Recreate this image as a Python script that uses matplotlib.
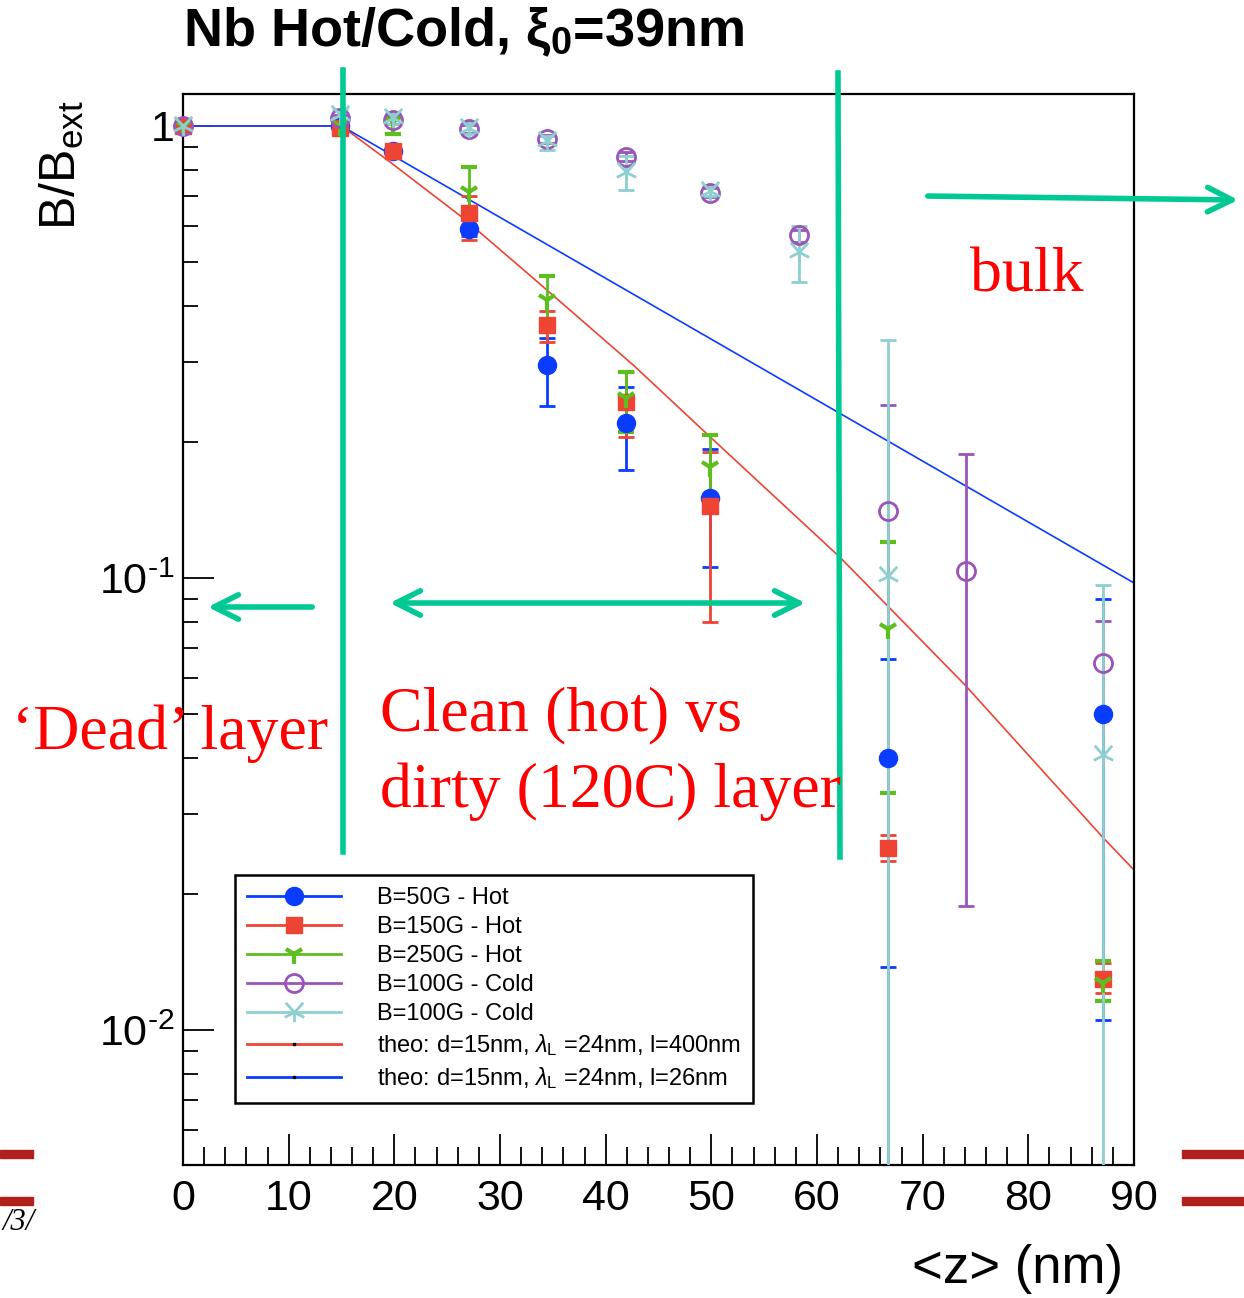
import matplotlib.pyplot as plt
from matplotlib.lines import Line2D
from matplotlib.patches import Rectangle
from matplotlib.path import Path
import numpy as np

plt.rcParams['font.family'] = ['Liberation Sans', 'DejaVu Sans']
plt.rcParams['mathtext.fontset'] = 'custom'
plt.rcParams['mathtext.rm'] = 'Liberation Sans'
plt.rcParams['mathtext.it'] = 'Liberation Sans:italic'
plt.rcParams['mathtext.bf'] = 'Liberation Sans:bold'

# === data ===
z_hot = [0, 14.9, 19.9, 27.1, 34.4, 41.9, 49.9, 66.7, 87.1]

b50_hot = [1.0, 1.0, 0.88, 0.592, 0.296, 0.220, 0.150, 0.0400, 0.0499]
b50_lo = [0.98, 0.98, 0.86, 0.57, 0.240, 0.173, 0.106, 0.0138, 0.0105]
b50_hi = [1.02, 1.02, 0.90, 0.62, 0.340, 0.265, 0.193, 0.0661, 0.0898]

b150_hot = [1.0, 0.99, 0.88, 0.642, 0.363, 0.245, 0.144, 0.0253, 0.0130]
b150_lo = [0.98, 0.97, 0.86, 0.56, 0.333, 0.205, 0.080, 0.0236, 0.0121]
b150_hi = [1.02, 1.01, 0.90, 0.70, 0.390, 0.285, 0.190, 0.0270, 0.0141]

b250_hot = [1.0, 1.0, 1.02, 0.715, 0.412, 0.250, 0.176, 0.0773, 0.0127]
b250_lo = [0.98, 0.98, 0.96, 0.58, 0.350, 0.210, 0.150, 0.0334, 0.0116]
b250_hi = [1.02, 1.02, 1.05, 0.81, 0.466, 0.285, 0.207, 0.120, 0.0142]

z_cold_a = [0, 14.9, 19.9, 27.1, 34.4, 41.9, 49.9, 58.3, 66.7, 74.1, 87.1]
b100_a = [1.0, 1.04, 1.03, 0.985, 0.936, 0.854, 0.711, 0.574, 0.141, 0.1036, 0.0648]
b100_a_lo = [0.98, 1.02, 1.01, 0.965, 0.915, 0.835, 0.695, 0.555, 0.001, 0.0188, 0.049]
b100_a_hi = [1.02, 1.06, 1.05, 1.005, 0.955, 0.875, 0.73, 0.59, 0.241, 0.188, 0.0802]

z_cold_b = [0, 14.9, 19.9, 27.1, 34.4, 41.9, 49.9, 58.3, 66.7, 87.1]
b100_b = [1.0, 1.06, 1.04, 0.99, 0.926, 0.79, 0.718, 0.526, 0.101, 0.0405]
b100_b_lo = [0.98, 1.03, 1.01, 0.96, 0.885, 0.72, 0.70, 0.452, 0.001, 0.001]
b100_b_hi = [1.02, 1.09, 1.07, 1.02, 0.95, 0.86, 0.74, 0.60, 0.336, 0.0963]

# theory curves
theo_clean_z = [0, 15, 19.6, 26.5, 32.8, 42.6, 50.2, 62.2, 74.0, 87.1, 90]
theo_clean_b = [1, 1, 0.832, 0.626, 0.468, 0.296, 0.202, 0.111, 0.0580, 0.0266, 0.0226]
theo_dirty_z = [0, 15, 90]
theo_dirty_b = [1, 1, 0.0975]

labels = ['B=50G - Hot', 'B=150G - Hot', 'B=250G - Hot', 'B=100G - Cold', 'B=100G - Cold',
          r'theo: d=15nm, $\lambda_{\rm L}$ =24nm, l=400nm',
          r'theo: d=15nm, $\lambda_{\rm L}$ =24nm, l=26nm']

c_blue = '#0a3cff'
c_red = '#ee4433'
c_green = '#5cbf1e'
c_purple = '#9a55b8'
c_cyan = '#8fcfcf'
c_note = '#00c994'

# cyan "star" marker like the ROOT one
star = Path([(0, 0), (-0.9, 1), (0, 0), (0.9, 1), (0, 0), (-1, -0.5), (0, 0), (1, -0.5), (0, 0), (0, -1)],
            [Path.MOVETO, Path.LINETO] * 5)

fig = plt.figure(figsize=(12.44, 12.98), dpi=100)
ax = fig.add_axes([0.1471, 0.1025, 0.7645, 0.8251])
ax.set_yscale('log')

ax.plot(theo_clean_z, theo_clean_b, color=c_red, lw=1.2, zorder=2)
ax.plot(theo_dirty_z, theo_dirty_b, color=c_blue, lw=1.2, zorder=2)

series = [
    (z_hot, b50_hot, b50_lo, b50_hi, dict(color=c_blue, marker='o', ms=13)),
    (z_hot, b150_hot, b150_lo, b150_hi, dict(color=c_red, marker='s', ms=11)),
    (z_hot, b250_hot, b250_lo, b250_hi, dict(color=c_green, marker='1', ms=15, mew=3)),
    (z_cold_a, b100_a, b100_a_lo, b100_a_hi, dict(color=c_purple, marker='o', ms=13, mfc='none', mew=2)),
    (z_cold_b, b100_b, b100_b_lo, b100_b_hi, dict(color=c_cyan, marker=star, ms=14, mew=2)),
]
handles = []
for z, v, lo, hi, st in series:
    v = np.array(v)
    yerr = [v - np.array(lo), np.array(hi) - v]
    eb = ax.errorbar(z, v, yerr=yerr, ls='none', elinewidth=2, capsize=6, capthick=2, zorder=3, **st)
    eb[0].set_clip_on(False)
    handles.append(Line2D([], [], ls='-', lw=2, **st))
handles.append(Line2D([], [], color=c_red, lw=2, marker='s', ms=1.5, mfc='k', mec='k'))
handles.append(Line2D([], [], color=c_blue, lw=2, marker='s', ms=1.5, mfc='k', mec='k'))

ax.set_xlim(0, 90)
ax.set_ylim(0.00503, 1.177)
ax.set_xticks(np.arange(0, 91, 10))
ax.set_xticks(np.arange(0, 91, 2), minor=True)
ax.set_yticks([0.01, 0.1, 1])
ax.set_yticklabels(['$10^{\u20102}$', '$10^{\u20101}$', '1'])
ax.tick_params(which='both', direction='in', top=False, right=False, width=1.3, labelsize=31)
ax.tick_params(axis='x', which='major', length=22, pad=10)
ax.tick_params(axis='x', which='minor', length=13)
ax.tick_params(axis='y', which='major', length=22, pad=6)
ax.tick_params(axis='y', which='minor', length=11, labelleft=False)
for s in ax.spines.values():
    s.set_linewidth(1.6)

leg = ax.legend(handles, labels, loc='lower left', bbox_to_anchor=(0.0547, 0.0579), fontsize=17,
                frameon=True, fancybox=False, framealpha=1, edgecolor='black', borderaxespad=0,
                handlelength=4.0, handletextpad=1.5, labelspacing=0.3, borderpad=0.5)
leg.get_frame().set_linewidth(1.8)

# title and axis labels (ROOT style placement)
fig.text(0.147, 0.975, r'Nb Hot/Cold, ξ$_{\mathbf{0}}$=39nm', fontsize=39, fontweight='bold', va='center')
fig.text(0.05, 0.873, r'B/B$_{\rm ext}$', fontsize=36, rotation=90, ha='center', va='center')
fig.text(0.818, 0.022, '<z> (nm)', fontsize=38, ha='center', va='center')

# slide annotations
serif = 'Liberation Serif'
fig.text(0.0096, 0.435, '\u2018Dead\u2019 layer', color='red', fontsize=46, family=serif, va='center')
fig.text(0.3055, 0.449, 'Clean (hot) vs', color='red', fontsize=46, family=serif, va='center')
fig.text(0.3055, 0.3898, 'dirty (120C) layer', color='red', fontsize=46, family=serif, va='center')
fig.text(0.7797, 0.7866, 'bulk', color='red', fontsize=46, family=serif, va='center')

fig.add_artist(Line2D([343 / 1244, 343 / 1244], [1 - 70 / 1298, 1 - 852 / 1298], color=c_note, lw=4))
fig.add_artist(Line2D([838 / 1244, 840 / 1244], [1 - 73 / 1298, 1 - 857 / 1298], color=c_note, lw=4))
arrow = dict(color=c_note, lw=4, mutation_scale=44)
ax.annotate('', xy=(205 / 1244, 1 - 607 / 1298), xytext=(315 / 1244, 1 - 607 / 1298),
            xycoords='figure fraction', arrowprops=dict(arrowstyle='->', **arrow))
ax.annotate('', xy=(808 / 1244, 1 - 603 / 1298), xytext=(387 / 1244, 1 - 603 / 1298),
            xycoords='figure fraction', arrowprops=dict(arrowstyle='<->', **arrow))
ax.annotate('', xy=(1241 / 1244, 1 - 200 / 1298), xytext=(925 / 1244, 1 - 196 / 1298),
            xycoords='figure fraction', arrowprops=dict(arrowstyle='->', **arrow))

# slide decorations at the bottom corners
for x0, w in [(0, 33), (1182, 62)]:
    for y0 in [1150, 1197]:
        fig.add_artist(Rectangle((x0 / 1244, 1 - (y0 + 8) / 1298), w / 1244, 8 / 1298,
                                 transform=fig.transFigure, color='#b2201e'))
fig.text(0.002, 1 - 1222 / 1298, '/3/', fontsize=22, family=serif, style='italic', ha='left', va='center')

fig.savefig('out.png', dpi=100)
